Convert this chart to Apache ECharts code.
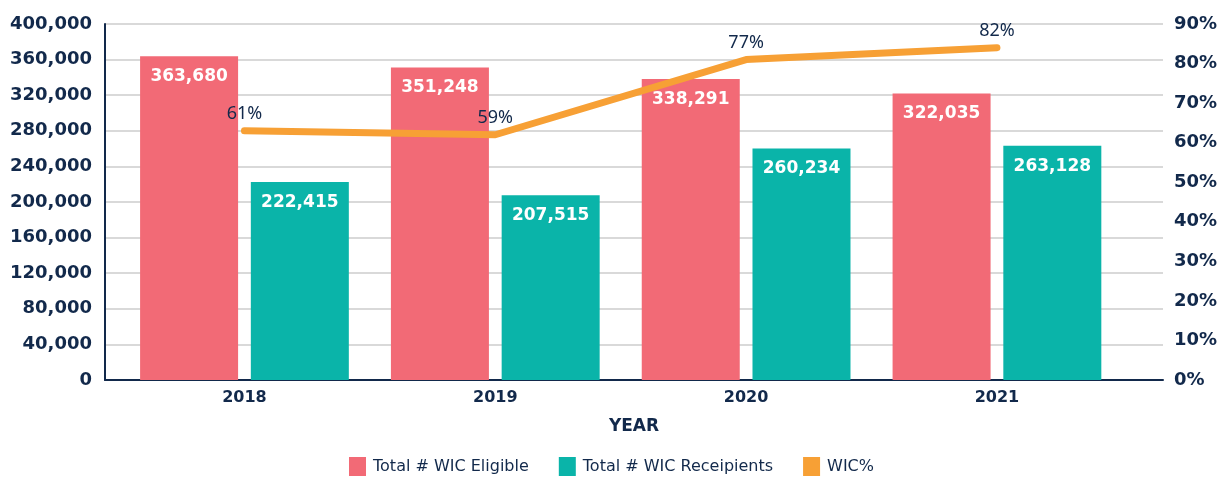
<!DOCTYPE html>
<html>
<head>
<meta charset="utf-8">
<script src="https://cdn.jsdelivr.net/npm/echarts@6/dist/echarts.min.js"></script>
<style>
  html, body { margin: 0; padding: 0; background: #fff; }
  #chart { width: 1223px; height: 479px; }
</style>
</head>
<body>
<div id="chart"></div>
<script>
// values
const years = ['2018', '2019', '2020', '2021']
const wicEligible = [363680, 351248, 338291, 322035]
const wicRecipients = [222415, 207515, 260234, 263128]
// line height as drawn, and the % labels printed beside it
const wicPct = [63, 62, 81, 84]
const wicPctLabels = ['61%', '59%', '77%', '82%']

const navy = '#12294b'
const boldFont = 'DejaVu Sans'
const plainFont = 'Noto Sans'

const pairs = arr => arr.map((v, i) => [i, v])

const chart = echarts.init(document.getElementById('chart'))
chart.setOption({
  animation: false,
  grid: {
    left: 105,
    right: 60,
    top: 24,
    bottom: 99
  },
  legend: {
    bottom: -2,
    icon: 'rect',
    itemWidth: 17,
    itemHeight: 19,
    itemGap: 30,
    textStyle: { color: navy, fontSize: 16, fontFamily: 'DejaVu Sans', padding: [0, 0, 0, 2] }
  },
  xAxis: {
    type: 'value',
    min: -0.556,
    max: 3.662,
    name: 'YEAR',
    nameLocation: 'middle',
    nameGap: 38,
    nameTextStyle: { color: navy, fontSize: 17, fontWeight: 'bold', fontFamily: boldFont },
    axisLine: { show: true, onZero: false, lineStyle: { color: navy, width: 2 } },
    axisTick: { show: false },
    splitLine: { show: false },
    axisLabel: {
      customValues: [0, 1, 2, 3],
      formatter: v => years[v],
      margin: 10,
      color: navy,
      fontSize: 16,
      fontWeight: 'bold',
      fontFamily: boldFont
    }
  },
  yAxis: [
    {
      type: 'value',
      min: 0,
      max: 400000,
      interval: 40000,
      axisLine: { show: true, onZero: false, lineStyle: { color: navy, width: 2 } },
      axisTick: { show: false },
      splitLine: { lineStyle: { color: '#d9d9d9', width: 2 } },
      axisLabel: {
        margin: 13,
        color: navy,
        fontSize: 18,
        fontWeight: 'bold',
        fontFamily: boldFont,
        formatter: v => v.toLocaleString('en-US')
      }
    },
    {
      type: 'value',
      min: 0,
      max: 90,
      interval: 10,
      axisLine: { show: false, onZero: false },
      axisTick: { show: false },
      splitLine: { show: false },
      axisLabel: {
        margin: 11,
        color: navy,
        fontSize: 18,
        fontWeight: 'bold',
        fontFamily: boldFont,
        formatter: '{value}%'
      }
    }
  ],
  series: [
    {
      name: 'Total # WIC Eligible',
      type: 'bar',
      data: pairs(wicEligible),
      barWidth: 98,
      barGap: '13%',
      itemStyle: { color: '#f26a76' },
      label: {
        show: true,
        position: 'insideTop',
        distance: 12,
        color: '#fff',
        fontSize: 17,
        fontWeight: 'bold',
        fontFamily: boldFont,
        formatter: p => p.value[1].toLocaleString('en-US')
      }
    },
    {
      name: 'Total # WIC Receipients',
      type: 'bar',
      data: pairs(wicRecipients),
      barWidth: 98,
      barGap: '13%',
      itemStyle: { color: '#0ab4a9' },
      label: {
        show: true,
        position: 'insideTop',
        distance: 12,
        color: '#fff',
        fontSize: 17,
        fontWeight: 'bold',
        fontFamily: boldFont,
        formatter: p => p.value[1].toLocaleString('en-US')
      }
    },
    {
      name: 'WIC%',
      type: 'line',
      yAxisIndex: 1,
      data: pairs(wicPct),
      z: 5,
      symbol: 'circle',
      symbolSize: 1,
      itemStyle: { color: '#f7a035' },
      lineStyle: { color: '#f7a035', width: 7, cap: 'round', join: 'round' },
      label: {
        show: true,
        position: 'top',
        distance: 7,
        color: navy,
        fontSize: 18,
        fontFamily: plainFont,
        formatter: p => wicPctLabels[p.dataIndex]
      }
    }
  ]
})
</script>
</body>
</html>
